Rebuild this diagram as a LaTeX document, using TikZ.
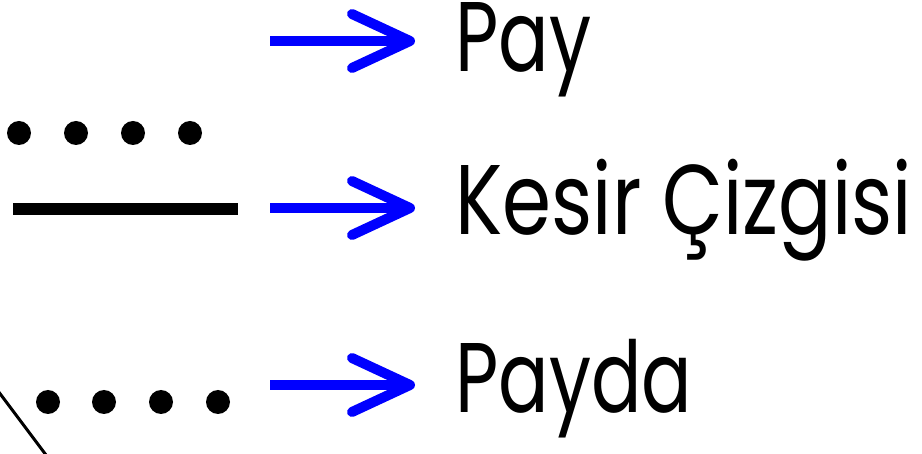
\documentclass[tikz,border=0pt]{standalone}
\usepackage{fontspec}
\setmainfont{Poppins}
\usetikzlibrary{calc}
\begin{document}
\begin{tikzpicture}[x=1pt,y=-1pt,
  dot/.style={circle,fill=black,inner sep=0pt,minimum size=24pt},
  shaft/.style={draw=blue,line width=10pt},
  barb/.style={draw=blue,line width=10pt,line cap=round,line join=round},
  lbl/.style={anchor=base west,inner sep=0pt,font=\fontsize{99}{99}\selectfont}]
\clip (0,0) rectangle (922,454);
% top dots
\foreach \i/\x in {1/19,2/76,3/133,4/190}{\node[dot] (a\i) at (\x,133) {};}
% fraction bar
\coordinate (b1) at (13,209);
\coordinate (b2) at (238,209);
\draw[line width=12pt] (b1) -- (b2);
% bottom dots
\foreach \i/\x in {1/48,2/104,3/161,4/218}{\node[dot] (c\i) at (\x,402) {};}
% diagonal line
\coordinate (d1) at (-8,383);
\coordinate (d2) at (52,463);
\draw[line width=3pt] (d1) -- (d2);
% labels
\node[lbl] (pay) at (455,72) {\resizebox{136pt}{\height}{Pay}};
\node[lbl] (kesir) at (455,235) {\resizebox{457pt}{\height}{Kesir Çizgisi}};
\node[lbl] (payda) at (455,413) {\resizebox{237pt}{\height}{Payda}};
% arrows
\foreach \n/\y in {1/41,2/208,3/385}{
  \coordinate (s\n) at (270,\y);
  \coordinate (t\n) at (410,\y);
  \draw[shaft] (s\n) -- (t\n);
  \draw[barb] ($(t\n)+(-58,-27)$) -- (t\n) -- ($(t\n)+(-58,27)$);
}
\end{tikzpicture}
\end{document}
